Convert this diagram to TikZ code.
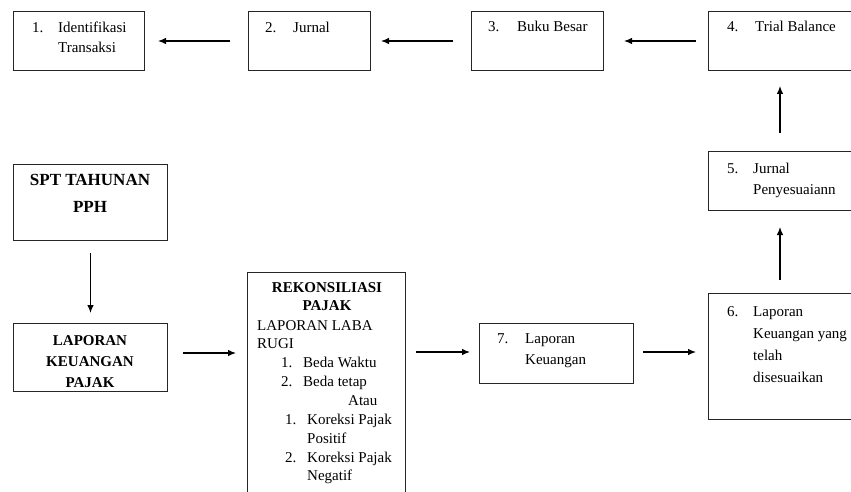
\documentclass[tikz,border=0pt]{standalone}
\usepackage{fontspec}
\setmainfont{Liberation Serif}
\usetikzlibrary{arrows.meta}
\begin{document}
\begin{tikzpicture}[x=1pt,y=-1pt,
  box/.style={draw=black!85, line width=1pt, inner sep=0pt, anchor=north west},
  txt/.style={anchor=base west, inner sep=0pt, text=black, font=\fontsize{15}{18}\selectfont},
  btxt/.style={anchor=base, inner sep=0pt, text=black, font=\fontsize{15}{18}\selectfont\bfseries},
  arr/.style={draw=black, line width=1.1pt, -{Latex[length=8pt,width=6.5pt]}}]
\useasboundingbox (0,0) rectangle (851,492);
\clip (0,0) rectangle (851,492);
% boxes
\node[box, minimum width=131pt, minimum height=59pt] (b1) at (13,11) {};
\node[box, minimum width=122pt, minimum height=59pt] (b2) at (248,11) {};
\node[box, minimum width=132pt, minimum height=59pt] (b3) at (471,11) {};
\node[box, minimum width=146pt, minimum height=59pt] (b4) at (708,11) {};
\node[box, minimum width=146pt, minimum height=59pt] (b5) at (708,151) {};
\node[box, minimum width=146pt, minimum height=126pt] (b6) at (708,293) {};
\node[box, minimum width=154pt, minimum height=60pt] (b7) at (479,323) {};
\node[box, minimum width=158pt, minimum height=225pt] (rek) at (247,272) {};
\node[box, minimum width=154pt, minimum height=76pt] (spt) at (13,164) {};
\node[box, minimum width=154pt, minimum height=68pt] (lap) at (13,323) {};
% texts box 1
\node[txt] (t1n) at (32,33) {1.};
\node[txt] (t1a) at (58,33) {Identifikasi};
\node[txt] (t1b) at (58,53) {Transaksi};
% box 2
\node[txt] (t2n) at (265,33) {2.};
\node[txt] (t2a) at (293,33) {Jurnal};
% box 3
\node[txt] (t3n) at (488,32) {3.};
\node[txt] (t3a) at (517,32) {Buku Besar};
% box 4
\node[txt] (t4n) at (727,32) {4.};
\node[txt] (t4a) at (755,32) {Trial Balance};
% box 5
\node[txt] (t5n) at (727,173) {5.};
\node[txt] (t5a) at (753,173) {Jurnal};
\node[txt] (t5b) at (753,194) {Penyesuaiann};
% box 6
\node[txt] (t6n) at (727,316) {6.};
\node[txt] (t6a) at (753,316) {Laporan};
\node[txt] (t6b) at (753,338) {Keuangan yang};
\node[txt] (t6c) at (753,360) {telah};
\node[txt] (t6d) at (753,382) {disesuaikan};
% box 7
\node[txt] (t7n) at (497,343) {7.};
\node[txt] (t7a) at (525,343) {Laporan};
\node[txt] (t7b) at (525,364) {Keuangan};
% SPT
\node[btxt, font=\fontsize{17}{20}\selectfont\bfseries] (ts1) at (90,185) {SPT TAHUNAN};
\node[btxt, font=\fontsize{17}{20}\selectfont\bfseries] (ts2) at (90,212) {PPH};
% LAPORAN KEUANGAN PAJAK
\node[btxt] (tl1) at (90,345) {LAPORAN};
\node[btxt] (tl2) at (90,366) {KEUANGAN};
\node[btxt] (tl3) at (90,387) {PAJAK};
% Rekonsiliasi
\node[btxt] (tr1) at (327,292) {REKONSILIASI};
\node[btxt] (tr2) at (327,310) {PAJAK};
\node[txt] (tr3) at (257,330) {LAPORAN LABA};
\node[txt] (tr4) at (257,348) {RUGI};
\node[txt] (tr5n) at (281,367) {1.};
\node[txt] (tr5) at (303,367) {Beda Waktu};
\node[txt] (tr6n) at (281,386) {2.};
\node[txt] (tr6) at (303,386) {Beda tetap};
\node[txt] (tr7) at (348,405) {Atau};
\node[txt] (tr8n) at (285,424) {1.};
\node[txt] (tr8) at (307,424) {Koreksi Pajak};
\node[txt] (tr9) at (307,443) {Positif};
\node[txt] (tr10n) at (285,462) {2.};
\node[txt] (tr10) at (307,462) {Koreksi Pajak};
\node[txt] (tr11) at (307,480) {Negatif};
% arrows
\draw[arr, shorten <=18pt, shorten >=13pt] (b2.west) -- (b1.east);
\draw[arr, shorten <=18pt, shorten >=10pt] (b3.west) -- (b2.east);
\draw[arr, shorten <=12pt, shorten >=20pt] (b4.west) -- (b3.east);
\draw[arr, shorten <=18pt, shorten >=15pt] (b5.north -| 780,0) -- (b4.south -| 780,0);
\draw[arr, shorten <=13pt, shorten >=16pt] (b6.north -| 780,0) -- (b5.south -| 780,0);
\draw[arr, shorten <=12pt, shorten >=10pt] (spt.south) -- (lap.north);
\draw[arr, shorten <=15pt, shorten >=11pt] (lap.east |- 0,353) -- (rek.west |- 0,353);
\draw[arr, shorten <=10pt, shorten >=9pt] (rek.east |- 0,352) -- (b7.west |- 0,352);
\draw[arr, shorten <=9pt, shorten >=12pt] (b7.east |- 0,352) -- (b6.west |- 0,352);
\end{tikzpicture}
\end{document}
